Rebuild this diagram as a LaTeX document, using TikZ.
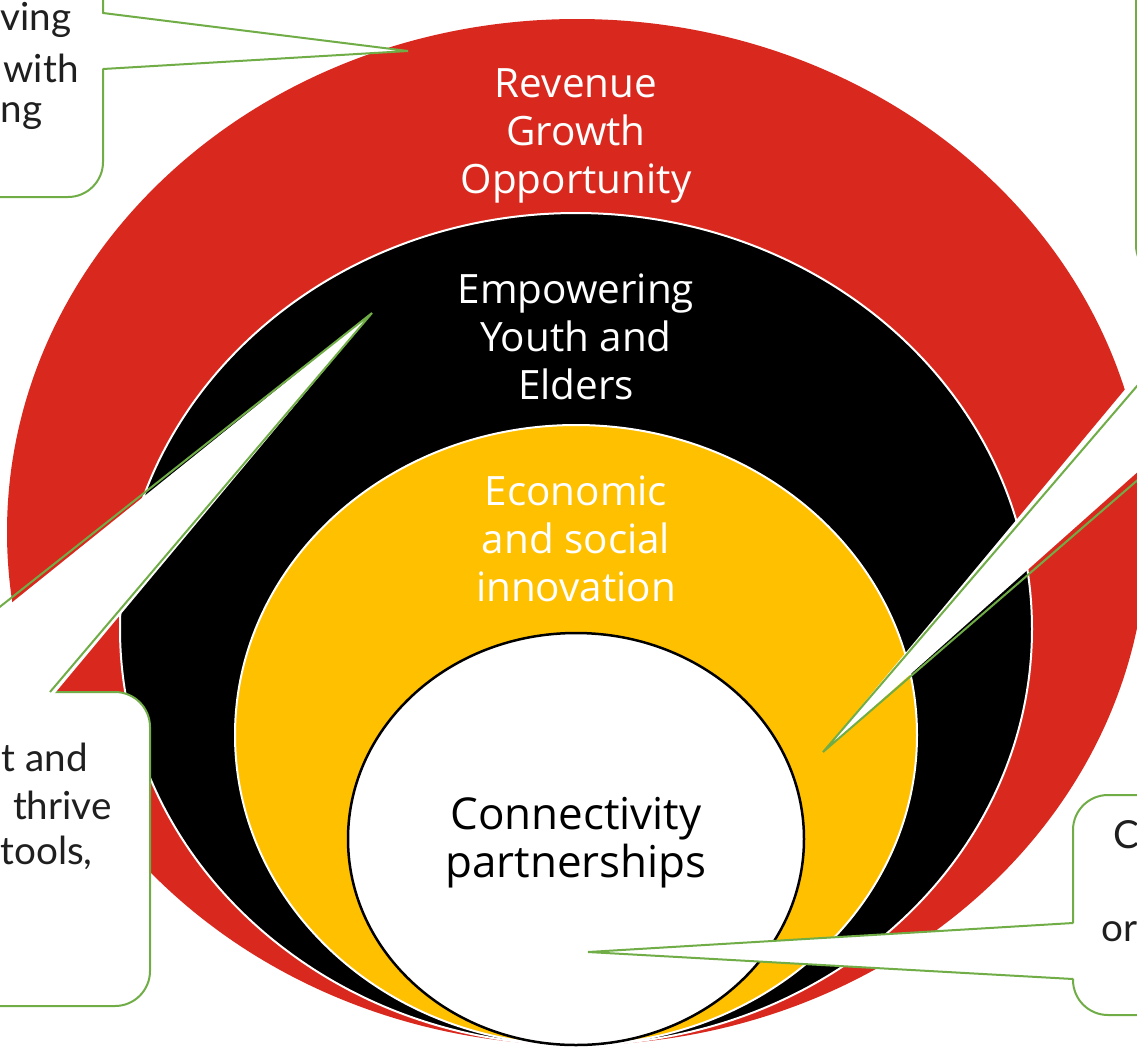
\documentclass[tikz,border=0pt]{standalone}
\usepackage{fontspec}
\setmainfont{Open Sans}
\newfontfamily\calloutfont{Lato}
\definecolor{ringred}{HTML}{D9291F}
\definecolor{ringyellow}{HTML}{FFC000}
\definecolor{callgreen}{HTML}{70AD47}
\tikzset{
  ringlabel/.style={align=center, text=white, inner sep=0pt, font=\fontsize{23}{27.2}\selectfont},
  callbox/.style={draw=callgreen, fill=white, line width=0.4mm, rounded corners=7mm},
  callline/.style={draw=callgreen, line width=0.4mm},
  calltext/.style={inner sep=0pt, text=black!88, font=\calloutfont\fontsize{22}{26}\selectfont}
}
\begin{document}
\begin{tikzpicture}[x=0.2mm,y=-0.2mm]
    \useasboundingbox (0,0) rectangle (1137,1053);
    \clip (0,0) rectangle (1137,1053);
    % rings
    \fill[ringred] (577,532) ellipse [x radius=570, y radius=513];
    \draw[fill=black, draw=white, line width=0.4mm] (576,629) ellipse [x radius=456, y radius=416];
    \draw[fill=ringyellow, draw=white, line width=0.4mm] (576,735) ellipse [x radius=341, y radius=310];
    \draw[fill=white, draw=black, line width=0.5mm] (576,839) ellipse [x radius=228, y radius=206];
    \node[ringlabel] (revenue) at (576,136) {Revenue\\Growth\\Opportunity};
    \node[ringlabel] (youth) at (576,337) {Empowering\\Youth and\\Elders};
    \node[ringlabel] (innovation) at (576,539) {Economic\\and social\\innovation};
    \node[ringlabel, text=black, font=\fontsize{25}{27.2}\selectfont] (connect) at (576,843) {Connectivity\\partnerships};
    % callout top left
    \coordinate (tipTL) at (408,51);
    \draw[callbox] (-200,-100) rectangle (103,197);
    \fill[white] (96,13) -- (tipTL) -- (96,69) -- cycle;
    \draw[callline] (103,13) -- (tipTL) -- (103,69);
    \node[calltext, anchor=east] (tlA) at (72,20) {ving};
    \node[calltext, anchor=east] (tlB) at (79,68) {with};
    \node[calltext, anchor=east] (tlC) at (43,116) {ng};
    % callout left
    \coordinate (tipL) at (372,313);
    \draw[callbox] (-200,692) rectangle (150,1006);
    \fill[white] (-108,699) -- (tipL) -- (50,699) -- cycle;
    \draw[callline] (-108,692) -- (tipL) -- (50,692);
    \node[calltext, anchor=east] (lA) at (88,757) {t and};
    \node[calltext, anchor=east] (lB) at (112,805) {thrive};
    \node[calltext, anchor=east] (lC) at (93,853) {tools,};
    % callout top right
    \coordinate (tipR) at (823,752);
    \draw[callbox] (1136,-100) rectangle (1450,280);
    \fill[white] (1222,273) -- (tipR) -- (1361,273) -- cycle;
    \draw[callline] (1228,280) -- (tipR) -- (1369,280);
    % callout bottom right
    \coordinate (tipBR) at (588,952);
    \draw[callbox] (1073,795) rectangle (1400,1015);
    \fill[white] (1080,923) -- (tipBR) -- (1080,979) -- cycle;
    \draw[callline] (1073,923) -- (tipBR) -- (1073,979);
    \node[calltext, anchor=west] (brA) at (1113,835) {C};
    \node[calltext, anchor=west] (brB) at (1101,932) {or};
\end{tikzpicture}
\end{document}
